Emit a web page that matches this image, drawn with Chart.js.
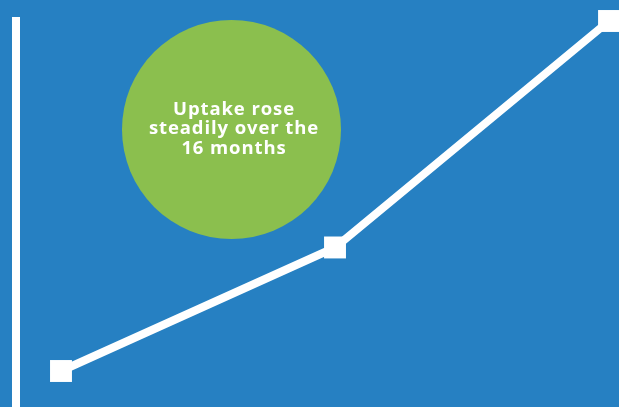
<!DOCTYPE html>
<html>
<head>
<meta charset="utf-8">
<script src="https://cdn.jsdelivr.net/npm/chart.js@4/dist/chart.umd.min.js"></script>
<style>
  html, body { margin: 0; padding: 0; background: #2680c2; }
  #wrap { position: relative; width: 619px; height: 407px; overflow: hidden; }
  #wrap canvas { position: absolute; left: 0; top: 0; }
  .bubble {
    position: absolute; left: 122px; top: 20px; width: 219px; height: 219px;
    border-radius: 50%; background: #8bbf4e;
  }
  .bubble span {
    position: absolute; left: 5px; right: 0; top: 78px; text-align: center;
    color: #fff; font-family: "Open Sans", sans-serif; font-weight: 700;
    font-size: 18.5px; line-height: 19.3px; letter-spacing: 0.9px;
  }
</style>
</head>
<body>
<div id="wrap">
  <canvas id="uptakeChart" width="619" height="407"></canvas>
  <div class="bubble"><span>Uptake rose<br>steadily over the<br>16 months</span></div>
</div>
<script>
  const periods = [0, 1, 2];
  const uptake = [10, 40, 95];
  const note = 'Uptake rose steadily over the 16 months';

  // white vertical axis line from the top of the y scale to the bottom of the page
  const axisLine = {
    id: 'axisLine',
    beforeDatasetsDraw(chart) {
      const { ctx, chartArea } = chart;
      ctx.save();
      ctx.fillStyle = '#ffffff';
      ctx.fillRect(chartArea.left - 4, chart.scales.y.top, 8, chart.height - chart.scales.y.top);
      ctx.restore();
    }
  };

  new Chart(document.getElementById('uptakeChart'), {
    type: 'line',
    data: {
      datasets: [
        {
          label: note,
          data: periods.map((p, i) => ({ x: p, y: uptake[i] })),
          borderColor: '#ffffff',
          borderWidth: 8,
          backgroundColor: '#ffffff',
          pointStyle: 'rect',
          pointRadius: 15.5,
          pointBorderWidth: 0,
          tension: 0,
          clip: false
        }
      ]
    },
    options: {
      responsive: false,
      animation: false,
      layout: { padding: { left: 16, top: 17, right: 16, bottom: 16 } },
      scales: {
        x: {
          type: 'linear',
          display: false,
          min: -0.1642,
          max: 1.978
        },
        y: {
          display: false,
          min: 5.143,
          max: 95.97
        }
      },
      plugins: {
        legend: { display: false },
        tooltip: { enabled: false }
      }
    },
    plugins: [axisLine]
  });
</script>
</body>
</html>
